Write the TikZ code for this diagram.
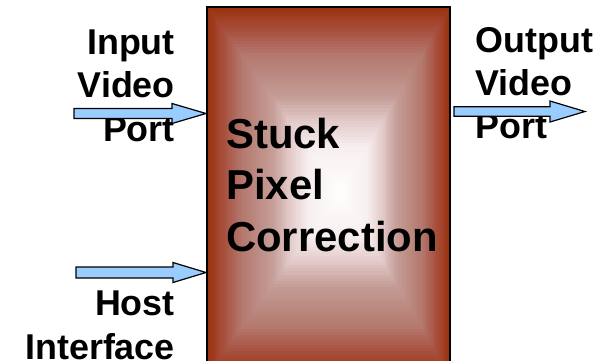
\documentclass[tikz,border=0pt]{standalone}
\usepackage{fontspec}
\setmainfont{Liberation Sans}
\usetikzlibrary{calc}
\definecolor{arrowblue}{RGB}{153,204,255}
\tikzset{
  barrow/.style={draw=black, line width=1.2bp, fill=arrowblue, line join=miter},
  lbl/.style={inner sep=0pt, font=\fontsize{36}{44}\selectfont\bfseries},
  boxlbl/.style={inner sep=0pt, font=\fontsize{42}{51.5}\selectfont\bfseries},
  mainbox/.style={draw=black, line width=2bp, inner sep=0pt, minimum width=243bp, minimum height=368bp}
}
\newcommand{\blockarrow}[5]{% start, tip, head length, shaft half, head half
  \draw[barrow] (#2) -- ($(#2)+(-#3,-#5)$) -- ($(#2)+(-#3,-#4)$) -- ($(#1)+(0,-#4)$)
    -- ($(#1)+(0,#4)$) -- ($(#2)+(-#3,#4)$) -- ($(#2)+(-#3,#5)$) -- cycle;}
\begin{document}
\begin{tikzpicture}[x=1bp,y=-1bp]
\clip (0,0) rectangle (615,360);
\fill[white] (0,0) rectangle (615,360);
% gradient fill of the block: concentric rectangles, s = 1 at the edge, 0 at the centre
\coordinate (C) at (341,192);
\foreach \sa/\sb/\ra/\ga/\ba/\rb/\gb/\bb/\n in {
  1/0.9/155/50/15/166/75/55/6,
  0.9/0.75/166/75/55/180/120/110/9,
  0.75/0.52/180/120/110/197/158/152/14,
  0.52/0.4/197/158/152/225/200/198/7,
  0.4/0.25/225/200/198/248/240/240/9,
  0.25/0/248/240/240/255/255/255/15} {
  \pgfmathtruncatemacro\nm{\n-1}
  \foreach \k in {0,...,\nm} {
    \pgfmathsetmacro\p{\k/\n}
    \pgfmathsetmacro\s{\sa+(\sb-\sa)*\p}
    \pgfmathtruncatemacro\cr{\ra+(\rb-\ra)*\p}
    \pgfmathtruncatemacro\cg{\ga+(\gb-\ga)*\p}
    \pgfmathtruncatemacro\cb{\ba+(\bb-\ba)*\p}
    \definecolor{gc}{RGB}{\cr,\cg,\cb}
    \fill[gc] ($(C)+(-134*\s,-185*\s)$) rectangle ($(C)+(109*\s,183*\s)$);
  }
}
\node[mainbox] (box) at (328.5,191) {};
\node[boxlbl, anchor=base west, align=left] (spc) at (226,251) {Stuck\\Pixel\\Correction};
% labels (base anchor = baseline of the last line)
\node[lbl, anchor=base east, align=right] (inlbl) at (175,141.7) {Input\\Video\\Port};
\node[lbl, anchor=base east, align=right] (hostlbl) at (175,359) {Host\\Interface};
\node[lbl, anchor=base west, align=left, font=\fontsize{36}{43.3}\selectfont\bfseries] (outlbl) at (475.5,138.3) {Output\\Video\\Port};
% arrows
\coordinate (inS) at (74,113.5);
\coordinate (inT) at (box.west |- inS);
\coordinate (hS) at (76,272.5);
\coordinate (hT) at (box.west |- hS);
\coordinate (oS) at (454,111.5);
\coordinate (oT) at (585,111.5);
\blockarrow{inS}{inT}{34}{5}{10}
\blockarrow{hS}{hT}{33}{5.5}{10}
\blockarrow{oS}{oT}{35}{4.75}{10.5}
\end{tikzpicture}
\end{document}
